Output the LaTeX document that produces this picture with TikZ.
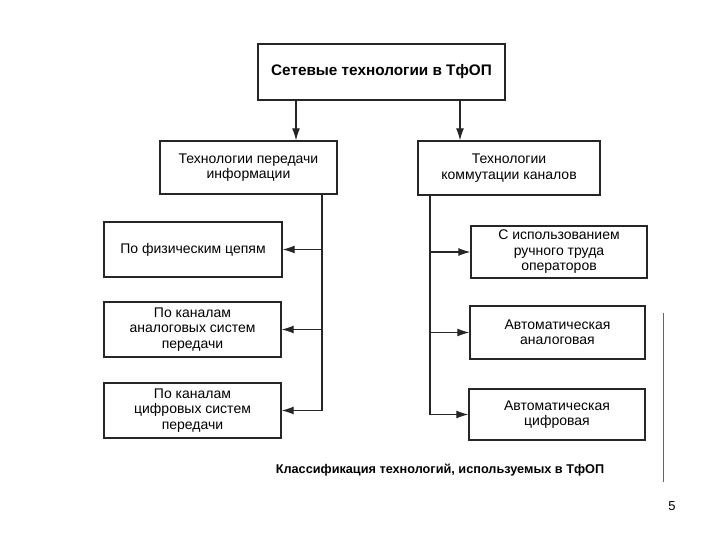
\documentclass[tikz,border=0pt]{standalone}
\usepackage{fontspec}
\setmainfont{Liberation Sans}
\usetikzlibrary{arrows.meta,calc}
\begin{document}
\begin{tikzpicture}[x=1pt,y=-1pt,
  box/.style={draw=black!85,line width=1.4pt,align=center,inner sep=0pt,
    font=\fontsize{14}{15.5}\selectfont},
  arr/.style={line width=1.1pt,draw=black!85,-{Latex[length=12pt,width=8pt]}},
  bus/.style={line width=1.1pt,draw=black!85}]
\useasboundingbox (0,0) rectangle (720,540);
\node[box,minimum width=247pt,minimum height=56pt,font=\fontsize{15.3}{18}\selectfont\bfseries] (top) at (381.5,72) {Сетевые технологии в ТфОП};
\node[box,minimum width=177pt,minimum height=53pt] (L0) at (248.5,167.5) {Технологии передачи\\информации};
\node[box,minimum width=182pt,minimum height=54pt] (R0) at (509,168) {Технологии\\коммутации каналов};
\node[box,minimum width=178pt,minimum height=55pt] (L1) at (193,249.5) {По физическим цепям};
\node[box,minimum width=177pt,minimum height=55pt] (L2) at (192.5,329.5) {По каналам\\аналоговых систем\\передачи};
\node[box,minimum width=177pt,minimum height=55pt] (L3) at (192.5,410.5) {По каналам\\цифровых систем\\передачи};
\node[box,minimum width=176pt,minimum height=52pt] (R1) at (559,252) {С использованием\\ручного труда\\операторов};
\node[box,minimum width=175pt,minimum height=53pt] (R2) at (557.5,332.5) {Автоматическая\\аналоговая};
\node[box,minimum width=176pt,minimum height=51pt] (R3) at (557,414.5) {Автоматическая\\цифровая};
\coordinate (ax1) at (296,0);
\coordinate (ax2) at (460,0);
\coordinate (lb) at (322,0);
\coordinate (rb) at (430,0);
\draw[arr] (top.south -| ax1) -- (L0.north -| ax1);
\draw[arr] (top.south -| ax2) -- (R0.north -| ax2);
\draw[bus] (L0.south -| lb) -- (L3.east -| lb);
\draw[arr] (L1.east -| lb) -- (L1.east);
\draw[arr] (L2.east -| lb) -- (L2.east);
\draw[arr] (L3.east -| lb) -- (L3.east);
\draw[bus] (R0.south -| rb) -- (R3.west -| rb);
\draw[arr] (R1.west -| rb) -- (R1.west);
\draw[arr] (R2.west -| rb) -- (R2.west);
\draw[arr] (R3.west -| rb) -- (R3.west);
\node[font=\fontsize{12.7}{15}\selectfont\bfseries] (cap) at (440,470) {Классификация технологий, используемых в ТфОП};
\coordinate (v1) at (663,313);
\coordinate (v2) at (663,482);
\draw[line width=0.8pt,black!60] (v1) -- (v2);
\node[font=\fontsize{13}{15}\selectfont] (pg) at (672,506) {5};
\end{tikzpicture}
\end{document}
